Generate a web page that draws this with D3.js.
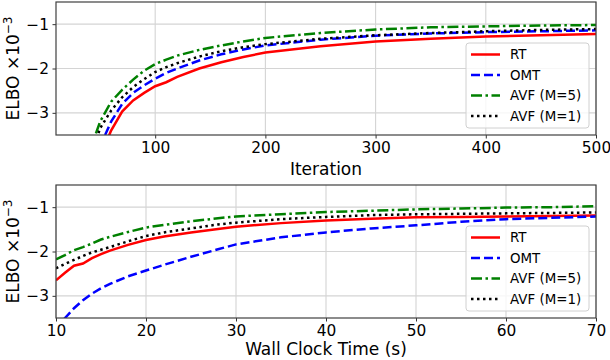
<!DOCTYPE html>
<html>
<head>
<meta charset="utf-8">
<script src="https://cdn.jsdelivr.net/npm/d3@7"></script>
<style>
  body { margin: 0; background: #fff; }
  svg { font-family: "DejaVu Sans", sans-serif; }
</style>
</head>
<body>
<div id="chart"></div>
<script>
// data (ELBO in units of 1e3)
const seriesNames = ["RT", "OMT", "AVF (M=5)", "AVF (M=1)"];

const iterations = [40, 50, 60, 70, 80, 90, 100, 110, 120, 140, 160, 180, 200, 250, 300, 350, 400, 450, 500];
const iterRT   = [-4.6, -4.0, -3.4, -2.97, -2.72, -2.55, -2.40, -2.31, -2.19, -2.00, -1.86, -1.74, -1.64, -1.50, -1.39, -1.33, -1.28, -1.25, -1.22];
const iterOMT  = [-4.3, -3.75, -3.2, -2.80, -2.55, -2.38, -2.23, -2.10, -2.00, -1.82, -1.68, -1.57, -1.48, -1.35, -1.26, -1.21, -1.18, -1.16, -1.14];
const iterAVF5 = [-3.9, -3.2, -2.75, -2.48, -2.25, -2.05, -1.90, -1.80, -1.71, -1.58, -1.48, -1.39, -1.31, -1.20, -1.12, -1.07, -1.05, -1.03, -1.02];
const iterAVF1 = [-4.1, -3.35, -2.95, -2.65, -2.42, -2.24, -2.08, -1.97, -1.88, -1.73, -1.61, -1.52, -1.45, -1.33, -1.25, -1.20, -1.16, -1.13, -1.11];

const times    = [10, 11, 12, 13, 14, 15, 16, 18, 20, 22, 25, 28, 30, 35, 40, 45, 50, 55, 60, 65, 70];
const timeRT   = [-2.65, -2.48, -2.32, -2.27, -2.15, -2.06, -1.98, -1.85, -1.74, -1.66, -1.57, -1.49, -1.44, -1.36, -1.30, -1.26, -1.23, -1.22, -1.21, -1.20, -1.19];
const timeOMT  = [-3.75, -3.50, -3.28, -3.10, -2.95, -2.83, -2.73, -2.56, -2.43, -2.30, -2.12, -1.95, -1.84, -1.68, -1.57, -1.48, -1.41, -1.33, -1.27, -1.24, -1.21];
const timeAVF5 = [-2.18, -2.08, -1.97, -1.90, -1.82, -1.73, -1.67, -1.56, -1.46, -1.40, -1.32, -1.25, -1.21, -1.16, -1.11, -1.08, -1.05, -1.03, -1.01, -1.00, -0.98];
const timeAVF1 = [-2.38, -2.28, -2.19, -2.10, -2.02, -1.96, -1.90, -1.77, -1.65, -1.57, -1.48, -1.39, -1.35, -1.27, -1.22, -1.18, -1.16, -1.15, -1.14, -1.13, -1.12];

const iterTicks = [100, 200, 300, 400, 500];
const timeTicks = [10, 20, 30, 40, 50, 60, 70];
const yTicks = [-3, -2, -1];

// line styles: red solid, blue dashed, green dash-dot, black dotted
const styles = [
  { color: "#ff0000", dash: null },
  { color: "#0000ff", dash: "9,4" },
  { color: "#008000", dash: "11,3.5,2.5,3.5" },
  { color: "#000000", dash: "2.5,3.5" }
];

const W = 610, H = 360;
const svg = d3.select("#chart").append("svg")
  .attr("width", W)
  .attr("height", H);

function panel(id, top, xs, ys, xDomain, xTicks, xLabel, labelGap) {
  const left = 56, right = 596, bottom = top + 133;
  const x = d3.scaleLinear().domain(xDomain).range([left, right]);
  const y = d3.scaleLinear().domain([-3.5, -0.5]).range([bottom, top]);
  const g = svg.append("g");

  g.append("clipPath").attr("id", id)
    .append("rect").attr("x", left).attr("y", top).attr("width", right - left).attr("height", bottom - top);

  // grid
  g.append("g").selectAll("line").data(xTicks).join("line")
    .attr("x1", d => x(d)).attr("x2", d => x(d)).attr("y1", top).attr("y2", bottom)
    .attr("stroke", "#d4d4d4").attr("stroke-width", 1.1);
  g.append("g").selectAll("line").data(yTicks).join("line")
    .attr("x1", left).attr("x2", right).attr("y1", d => y(d)).attr("y2", d => y(d))
    .attr("stroke", "#d4d4d4").attr("stroke-width", 1.1);

  // curves
  const line = d3.line().x(d => x(d[0])).y(d => y(d[1]));
  g.append("g").attr("clip-path", `url(#${id})`)
    .selectAll("path").data(ys).join("path")
    .attr("d", s => line(xs.map((v, i) => [v, s[i]])))
    .attr("fill", "none")
    .attr("stroke", (s, i) => styles[i].color)
    .attr("stroke-width", 2.5)
    .attr("stroke-dasharray", (s, i) => styles[i].dash);

  // axes
  const xAxis = g.append("g").attr("transform", `translate(0,${bottom})`)
    .call(d3.axisBottom(x).tickValues(xTicks).tickSize(3.5).tickPadding(3.5).tickFormat(d3.format("d")));
  const yAxis = g.append("g").attr("transform", `translate(${left},0)`)
    .call(d3.axisLeft(y).tickValues(yTicks).tickSize(3.5).tickPadding(3.5).tickFormat(d => "\u2212" + Math.abs(d)));
  [xAxis, yAxis].forEach(a => {
    a.select(".domain").remove();
    a.selectAll("line").attr("stroke", "#333").attr("stroke-width", 1);
    a.selectAll("text").attr("font-size", 15.4).attr("fill", "#000").attr("font-family", "DejaVu Sans");
  });

  // frame
  g.append("rect").attr("x", left).attr("y", top).attr("width", right - left).attr("height", bottom - top)
    .attr("fill", "none").attr("stroke", "#404040").attr("stroke-width", 1.2);

  g.append("text").attr("x", (left + right) / 2).attr("y", bottom + labelGap)
    .attr("text-anchor", "middle").attr("font-size", 17).text(xLabel);

  const yl = g.append("text")
    .attr("transform", `translate(18.5,${(top + bottom) / 2}) rotate(-90)`)
    .attr("text-anchor", "middle").attr("font-size", 17);
  yl.append("tspan").text("ELBO \u00d710");
  yl.append("tspan").attr("dy", -7).attr("font-size", 12).text("\u22123");

  // legend
  const lx = 466, ly = bottom - 92;
  const leg = g.append("g");
  leg.append("rect").attr("x", lx).attr("y", ly).attr("width", 123).attr("height", 85).attr("rx", 3)
    .attr("fill", "#fff").attr("fill-opacity", 0.8).attr("stroke", "#d0d0d0");
  const rows = leg.selectAll("g").data(seriesNames).join("g")
    .attr("transform", (d, i) => `translate(${lx},${ly + 11.5 + i * 20.5})`);
  rows.append("line").attr("x1", 5).attr("x2", 34).attr("y1", 0).attr("y2", 0)
    .attr("stroke", (d, i) => styles[i].color).attr("stroke-width", 2.5)
    .attr("stroke-dasharray", (d, i) => styles[i].dash);
  rows.append("text").attr("x", 44).attr("y", 0).attr("dy", "0.35em")
    .attr("font-size", 13.4).text(d => d);
}

panel("clipTop", 2, iterations, [iterRT, iterOMT, iterAVF5, iterAVF1], [10, 500], iterTicks, "Iteration", 39.5);
panel("clipBottom", 185, times, [timeRT, timeOMT, timeAVF5, timeAVF1], [10, 70], timeTicks, "Wall Clock Time (s)", 37);
</script>
</body>
</html>
